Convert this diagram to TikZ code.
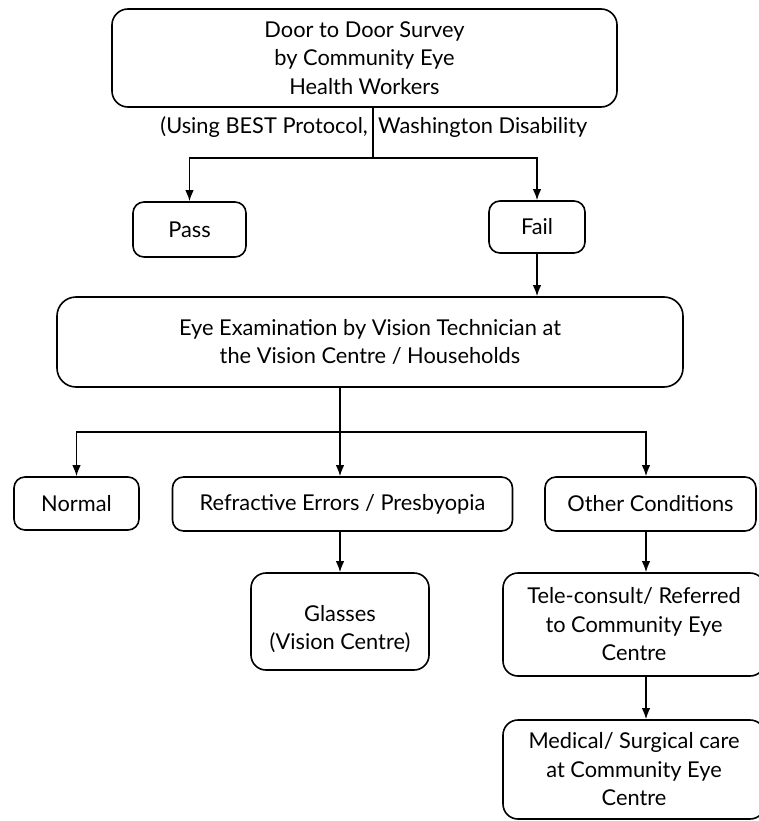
\documentclass[tikz,border=0pt]{standalone}
\usepackage{fontspec}
\setmainfont{Lato}
\usetikzlibrary{arrows.meta,calc}
\begin{document}
\begin{tikzpicture}[x=1pt,y=-1pt,
  every node/.style={font=\fontsize{21.8}{28.5}\selectfont},
  box/.style={draw=black,line width=1.6pt,rounded corners=#1,align=center,inner sep=0pt,fill=white},
  box/.default=11pt,
  conn/.style={line width=1.5pt,draw=black},
  arr/.style={conn,-{Latex[length=11pt,width=8.5pt]}}]
\useasboundingbox (0,0) rectangle (758,821);
\fill[white] (0,0) rectangle (758,821);

% boxes
\node[box=16pt,minimum width=505pt,minimum height=98pt] (top) at (364.5,58)
  {Door to Door Survey\\by Community Eye\\Health Workers};
\node[anchor=east,inner sep=0pt] (lblL) at (368,127) {(Using BEST Protocol,};
\node[anchor=west,inner sep=0pt] (lblR) at (378,127) {Washington Disability};
\node[box,minimum width=113pt,minimum height=55pt] (pass) at (189.5,229.5) {Pass};
\node[box,minimum width=96pt,minimum height=52pt] (fail) at (537,227) {Fail};
\node[box=19pt,minimum width=626pt,minimum height=90pt] (eye) at (370,342)
  {Eye Examination by Vision Technician at\\the Vision Centre / Households};
\node[box,minimum width=125pt,minimum height=53pt] (normal) at (76.5,503.5) {Normal};
\node[box,minimum width=340pt,minimum height=54pt] (refr) at (342.5,504) {Refractive Errors / Presbyopia};
\node[box,minimum width=211pt,minimum height=54pt] (other) at (650.5,504) {Other Conditions};
\node[box=15pt,minimum width=178pt,minimum height=97pt] (glasses) at (340,621.5) {};
\node[align=center,inner sep=0pt] (glassestxt) at (340,629) {Glasses\\(Vision Centre)};
\node[box=15pt,minimum width=262pt,minimum height=103pt] (tele) at (634,624.5)
  {Tele-consult/ Referred\\to Community Eye\\Centre};
\node[box=15pt,minimum width=262pt,minimum height=99pt] (medical) at (634,769.5)
  {Medical/ Surgical care\\at Community Eye\\Centre};

% connectors
\coordinate (j1) at (373,158);
\coordinate (j2) at (340,432);
\coordinate (col) at (646,0);
\draw[conn] (top.south -| j1) -- (j1);
\draw[arr] (j1) -| (pass.north);
\draw[arr] (j1) -| (fail.north);
\draw[arr] (fail.south) -- (fail.south |- eye.north);
\draw[arr] (eye.south -| j2) -- (refr.north -| j2);
\draw[arr] (j2) -| (normal.north);
\draw[arr] (j2) -| (other.north -| col);
\draw[arr] (refr.south -| glasses.north) -- (glasses.north);
\draw[arr] (other.south -| col) -- (tele.north -| col);
\draw[arr] (tele.south -| col) -- (medical.north -| col);
\end{tikzpicture}
\end{document}
